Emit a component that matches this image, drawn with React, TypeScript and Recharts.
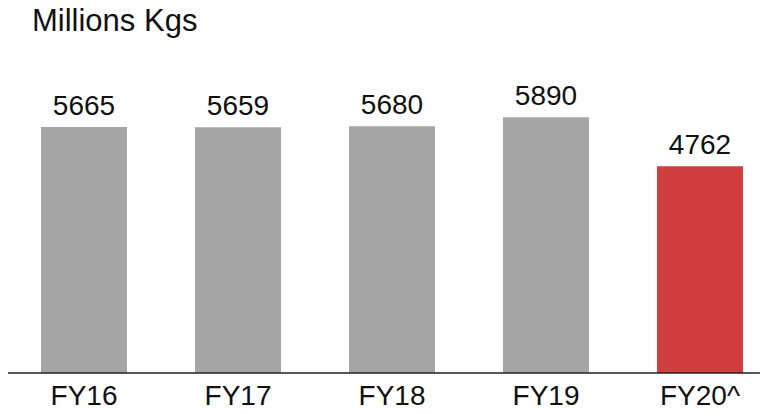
import { BarChart, Bar, XAxis, YAxis, Cell, LabelList } from "recharts";

const years = ["FY16", "FY17", "FY18", "FY19", "FY20^"];
const volumes = [5665, 5659, 5680, 5890, 4762];
const barColors = ["#a5a5a5", "#a5a5a5", "#a5a5a5", "#a5a5a5", "#d03e3e"];

const chartData = years.map((year, i) => ({ year, volume: volumes[i] }));

const FONT = '"Liberation Sans", Arial, sans-serif';

export default function App() {
  return (
    <div style={{ position: "relative", width: 760, height: 405, fontFamily: FONT }}>
      <div style={{ width: 760, height: 405, overflow: "hidden" }}>
        <div style={{ marginLeft: -1 }}>
          <BarChart
            width={770}
            height={406}
            data={chartData}
            margin={{ top: 61, right: 0, bottom: 0, left: 0 }}
          >
            <YAxis hide domain={[0, 7000]} />
            <XAxis
              dataKey="year"
              height={41}
              tickLine={false}
              tickSize={6}
              tickMargin={6}
              axisLine={{ stroke: "#222", strokeWidth: 1.5 }}
              tick={{ fill: "#111", fontSize: 28, fontFamily: FONT }}
              interval={0}
            />
            <Bar dataKey="volume" barSize={86} isAnimationActive={false}>
              {chartData.map((d, i) => (
                <Cell key={d.year} fill={barColors[i]} />
              ))}
              <LabelList
                dataKey="volume"
                position="top"
                offset={12}
                style={{ fill: "#111", fontSize: 28, fontFamily: FONT }}
              />
            </Bar>
          </BarChart>
        </div>
      </div>
      {/* axis title sits above the plot, top-left */}
      <div
        style={{
          position: "absolute",
          left: 24,
          top: -3,
          fontSize: 31,
          lineHeight: "31px",
          color: "#111",
          whiteSpace: "nowrap",
        }}
      >
        Millions Kgs
      </div>
    </div>
  );
}
